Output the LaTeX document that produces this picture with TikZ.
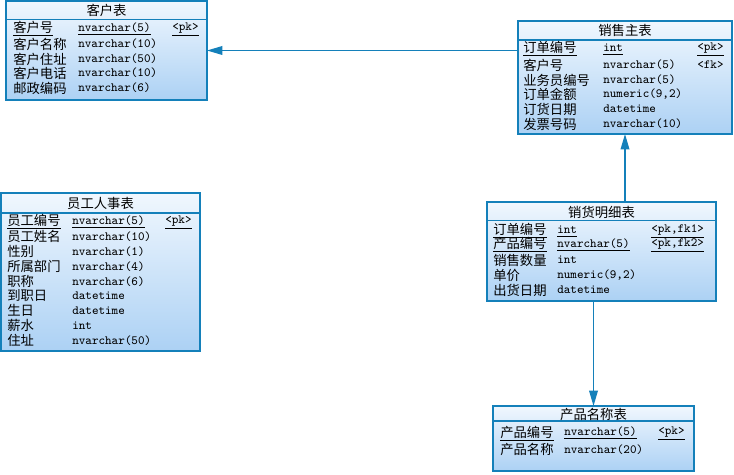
\documentclass[tikz,border=0pt]{standalone}
\usepackage{fontspec}
\setmainfont{Noto Sans CJK SC}
\newfontfamily\cjk{Noto Sans CJK SC}
\usetikzlibrary{arrows.meta}
\definecolor{bord}{RGB}{20,128,186}
\definecolor{ftop}{RGB}{240,247,254}
\definecolor{fbot}{RGB}{172,209,244}
\newcommand\myul[1]{\underline{#1\vphantom{(}}}
\tikzset{
 tbox/.style={draw=bord, line width=1pt, top color=ftop, bottom color=fbot, anchor=north west, inner sep=0pt, outer sep=0pt},
 ttl/.style={font=\cjk\fontsize{10}{12}\selectfont, inner sep=0pt},
 cn/.style={font=\cjk\fontsize{10}{12}\selectfont, anchor=west, inner sep=0pt},
 ct/.style={font=\ttfamily\fontsize{9.4}{11}\selectfont, anchor=west, inner sep=0pt},
 sepl/.style={draw=bord, line width=0.8pt},
 conn/.style={draw=bord, line width=1pt, -{Triangle[length=11.5pt,width=6.5pt]}},
}
\begin{document}
\begin{tikzpicture}[x=0.75pt,y=-0.75pt]
\useasboundingbox (0,0) rectangle (734,474);
% ---------- 客户表
\node[tbox, minimum width=150.75pt, minimum height=74.25pt] (kh) at (6,1) {};
\draw[sepl] (6,19.5) -- (207,19.5);
\node[ttl] (kht) at (106.5,10) {客户表};
\node[cn] (kh1n) at (13,29) {\underline{客户号}};
\node[ct] (kh1t) at (78,29) {\myul{nvarchar(5)}};
\node[ct] (kh1k) at (172,29) {\myul{<pk>}};
\node[cn] (kh2n) at (13,44) {客户名称};
\node[ct] (kh2t) at (78,44) {nvarchar(10)};
\node[cn] (kh3n) at (13,59) {客户住址};
\node[ct] (kh3t) at (78,59) {nvarchar(50)};
\node[cn] (kh4n) at (13,73) {客户电话};
\node[ct] (kh4t) at (78,73) {nvarchar(10)};
\node[cn] (kh5n) at (13,88) {邮政编码};
\node[ct] (kh5t) at (78,88) {nvarchar(6)};
% ---------- 销售主表
\node[tbox, minimum width=160.5pt, minimum height=84.75pt] (xs) at (518,21) {};
\draw[sepl] (518,40) -- (732,40);
\node[ttl] (xst) at (625,30) {销售主表};
\node[cn] (xs1n) at (523,49) {\underline{订单编号}};
\node[ct] (xs1t) at (603,49) {\myul{int}};
\node[ct] (xs1k) at (697,49) {\myul{<pk>}};
\node[cn] (xs2n) at (523,65) {客户号};
\node[ct] (xs2t) at (603,65) {nvarchar(5)};
\node[ct] (xs2k) at (697,65) {<fk>};
\node[cn] (xs3n) at (523,80) {业务员编号};
\node[ct] (xs3t) at (603,80) {nvarchar(5)};
\node[cn] (xs4n) at (523,94) {订单金额};
\node[ct] (xs4t) at (603,94) {numeric(9,2)};
\node[cn] (xs5n) at (523,109) {订货日期};
\node[ct] (xs5t) at (603,109) {datetime};
\node[cn] (xs6n) at (523,124) {发票号码};
\node[ct] (xs6t) at (603,124) {nvarchar(10)};
% ---------- 员工人事表
\node[tbox, minimum width=149.25pt, minimum height=118.5pt] (yg) at (1,193) {};
\draw[sepl] (1,213) -- (200,213);
\node[ttl] (ygt) at (100.5,203) {员工人事表};
\node[cn] (yg1n) at (7,222) {\underline{员工编号}};
\node[ct] (yg1t) at (72,222) {\myul{nvarchar(5)}};
\node[ct] (yg1k) at (165,222) {\myul{<pk>}};
\node[cn] (yg2n) at (7,236.8) {员工姓名};
\node[ct] (yg2t) at (72,236.8) {nvarchar(10)};
\node[cn] (yg3n) at (7,251.6) {性别};
\node[ct] (yg3t) at (72,251.6) {nvarchar(1)};
\node[cn] (yg4n) at (7,266.4) {所属部门};
\node[ct] (yg4t) at (72,266.4) {nvarchar(4)};
\node[cn] (yg5n) at (7,281.2) {职称};
\node[ct] (yg5t) at (72,281.2) {nvarchar(6)};
\node[cn] (yg6n) at (7,296) {到职日};
\node[ct] (yg6t) at (72,296) {datetime};
\node[cn] (yg7n) at (7,310.8) {生日};
\node[ct] (yg7t) at (72,310.8) {datetime};
\node[cn] (yg8n) at (7,325.6) {薪水};
\node[ct] (yg8t) at (72,325.6) {int};
\node[cn] (yg9n) at (7,340.4) {住址};
\node[ct] (yg9t) at (72,340.4) {nvarchar(50)};
% ---------- 销货明细表
\node[tbox, minimum width=171.75pt, minimum height=74.25pt] (xm) at (487,202) {};
\draw[sepl] (487,220.5) -- (716,220.5);
\node[ttl] (xmt) at (601.5,212) {销货明细表};
\node[cn] (xm1n) at (493,231) {\underline{订单编号}};
\node[ct] (xm1t) at (557,231) {\myul{int}};
\node[ct] (xm1k) at (651,231) {\myul{<pk,fk1>}};
\node[cn] (xm2n) at (493,245) {\underline{产品编号}};
\node[ct] (xm2t) at (557,245) {\myul{nvarchar(5)}};
\node[ct] (xm2k) at (651,245) {\myul{<pk,fk2>}};
\node[cn] (xm3n) at (493,260) {销售数量};
\node[ct] (xm3t) at (557,260) {int};
\node[cn] (xm4n) at (493,275) {单价};
\node[ct] (xm4t) at (557,275) {numeric(9,2)};
\node[cn] (xm5n) at (493,290) {出货日期};
\node[ct] (xm5t) at (557,290) {datetime};
% ---------- 产品名称表
\node[tbox, minimum width=150.75pt, minimum height=48.75pt] (cp) at (493,406) {};
\draw[sepl] (493,421) -- (694,421);
\node[ttl] (cpt) at (593.5,414) {产品名称表};
\node[cn] (cp1n) at (500,433.3) {\underline{产品编号}};
\node[ct] (cp1t) at (564,433.3) {\myul{nvarchar(5)}};
\node[ct] (cp1k) at (658,433.3) {\myul{<pk>}};
\node[cn] (cp2n) at (500,449.3) {产品名称};
\node[ct] (cp2t) at (564,449.3) {nvarchar(20)};
% ---------- connectors
\draw[conn] (xs.west |- kh.east) -- (kh.east);
\draw[conn] (xm.north -| xs.south) -- (xs.south);
\draw[conn] (xm.south -| cp.north) -- (cp.north);
\end{tikzpicture}
\end{document}
